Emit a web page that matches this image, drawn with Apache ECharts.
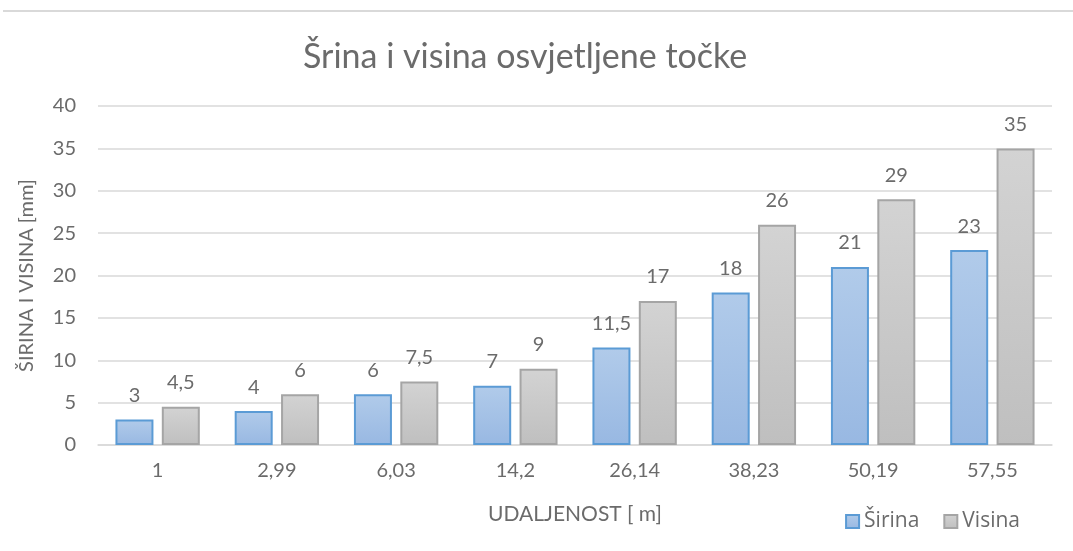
<!DOCTYPE html>
<html>
<head>
<meta charset="utf-8">
<script src="https://cdn.jsdelivr.net/npm/echarts@6/dist/echarts.min.js"></script>
<style>html,body{margin:0;padding:0;background:#fff}#c{width:1073px;height:551px}</style>
</head>
<body>
<div id="c"></div>
<script>
var categories = ['1', '2,99', '6,03', '14,2', '26,14', '38,23', '50,19', '57,55'];
var sirina = [3, 4, 6, 7, 11.5, 18, 21, 23];
var visina = [4.5, 6, 7.5, 9, 17, 26, 29, 35];
var yTicks = [0, 5, 10, 15, 20, 25, 30, 35, 40];

var FONT = 'Lato, "Open Sans", sans-serif';
var TXT = '#6b6b6b';
var chart = echarts.init(document.getElementById('c'));
function lbl(p){ return String(p.value).replace('.', ','); }
chart.setOption({
  animation: false,
  textStyle: {fontFamily: FONT},
  graphic: [{type: 'rect', shape: {x: 3, y: 10, width: 1070, height: 2}, style: {fill: '#d9d9d9'}}],
  title: {
    text: 'Šrina i visina osvjetljene točke',
    left: 298, top: 35,
    textStyle: {color: TXT, fontSize: 34, fontWeight: 'normal', fontFamily: FONT}
  },
  legend: {
    right: 48, top: 506, icon: 'rect',
    itemWidth: 13, itemHeight: 13, itemGap: 24,
    textStyle: {color: TXT, fontSize: 21, fontFamily: '"Open Sans", sans-serif'},
    data: ['Širina', 'Visina']
  },
  grid: {left: 98, right: 21, top: 106, bottom: 106},
  xAxis: {
    type: 'category', data: categories,
    name: 'UDALJENOST [ m]', nameLocation: 'middle', nameGap: 59,
    nameTextStyle: {color: TXT, fontSize: 21, fontFamily: FONT},
    axisLine: {lineStyle: {color: '#d9d9d9', width: 1.5}},
    axisTick: {show: false},
    axisLabel: {color: TXT, fontSize: 20, margin: 16, fontFamily: FONT}
  },
  yAxis: {
    type: 'value', min: yTicks[0], max: yTicks[yTicks.length-1], interval: 5,
    name: 'ŠIRINA I VISINA [mm]', nameLocation: 'middle', nameGap: 61,
    nameTextStyle: {color: TXT, fontSize: 20, fontFamily: FONT},
    axisLine: {show: false}, axisTick: {show: false},
    splitLine: {lineStyle: {color: '#d9d9d9', width: 1.5}},
    axisLabel: {color: TXT, fontSize: 20, margin: 22, fontFamily: FONT}
  },
  series: [{
    name: 'Širina', type: 'bar', data: sirina, barWidth: 38, barGap: '22%',
    itemStyle: {
      color: new echarts.graphic.LinearGradient(0, 0, 0, 1, [{offset: 0, color: '#b1cbea'}, {offset: 1, color: '#98b8e2'}]),
      borderColor: '#5b9bd5', borderWidth: 2
    },
    label: {show: true, position: 'top', distance: 14, color: TXT, fontSize: 20, fontFamily: FONT, formatter: lbl}
  }, {
    name: 'Visina', type: 'bar', data: visina, barWidth: 38,
    itemStyle: {
      color: new echarts.graphic.LinearGradient(0, 0, 0, 1, [{offset: 0, color: '#d3d3d3'}, {offset: 1, color: '#bfbfbf'}]),
      borderColor: '#a5a5a5', borderWidth: 2
    },
    label: {show: true, position: 'top', distance: 14, color: TXT, fontSize: 20, fontFamily: FONT, formatter: lbl}
  }]
});
</script>
</body>
</html>
